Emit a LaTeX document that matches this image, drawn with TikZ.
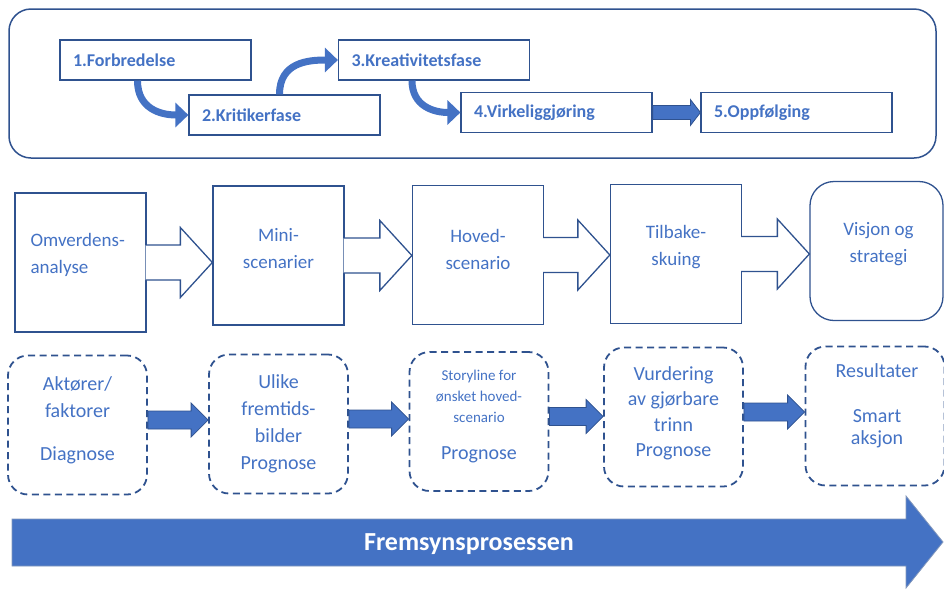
\documentclass[tikz,border=0pt]{standalone}
\usepackage{fontspec}
\setmainfont{Carlito}
\usetikzlibrary{arrows.meta,calc,positioning}
\definecolor{lineblue}{HTML}{2F528F}
\definecolor{officeblue}{HTML}{4472C4}
\newcommand\storyfont{\fontsize{15}{20}\selectfont}
\tikzset{
  fase/.style={draw=lineblue, line width=1.2pt, minimum height=40pt, text width=165pt,
    inner xsep=13pt, inner ysep=0pt, align=left, text=officeblue,
    font=\fontsize{18}{20}\selectfont\bfseries},
  stage/.style={draw=lineblue, line width=1.3pt, minimum width=131pt, minimum height=139pt, inner sep=0pt},
  stagetext/.style={inner sep=0pt, text=officeblue, align=center, font=\fontsize{19}{27}\selectfont},
  task/.style={draw=lineblue, line width=1.8pt, dash pattern=on 7pt off 4.5pt, rounded corners=20pt,
    minimum width=139pt, minimum height=139pt, inner sep=0pt},
  tasktext/.style={inner sep=0pt, text=officeblue, align=center, font=\fontsize{20}{27}\selectfont},
  callout/.style={draw=lineblue, line width=1.3pt, fill=white, line join=miter},
  blockarrow/.style={draw=lineblue, line width=0.8pt, fill=officeblue},
  curvearrow/.style={draw=officeblue, line width=7pt, -{Triangle[length=13pt,width=24pt]}}
}
\begin{document}
\begin{tikzpicture}[x=1pt, y=-1pt]
\useasboundingbox (0,0) rectangle (944,590);
% phases
\node[draw=lineblue, line width=1.5pt, rounded corners=22pt, minimum width=927pt, minimum height=149pt] (faser) at (472.5,83.5) {};
\node[fase] (forb) at (155.5,60) {1.Forbredelse};
\node[fase] (krit) at (284.5,115) {2.Kritikerfase};
\node[fase] (krea) at (434,60) {3.Kreativitetsfase};
\node[fase] (virk) at (556.5,112.5) {4.Virkeliggjøring};
\node[fase] (oppf) at (796.5,112.5) {5.Oppfølging};
\draw[curvearrow] ([xshift=-18pt]forb.south) .. controls +(0,28) and +(-28,0) .. (krit.west);
\draw[curvearrow] ([xshift=-5pt]krit.north) .. controls +(0,-32) and +(-30,0) .. (krea.west);
\draw[curvearrow] ([xshift=-22pt]krea.south) .. controls +(0,26) and +(-26,0) .. (virk.west);
\filldraw[blockarrow] ($(virk.east)+(0,-7)$) -- ($(oppf.west)+(-10,-7)$) -- ($(oppf.west)+(-10,-13)$) -- (oppf.west)
  -- ($(oppf.west)+(-10,13)$) -- ($(oppf.west)+(-10,7)$) -- ($(virk.east)+(0,7)$) -- cycle;
% stages
\node[stage] (omv) at (80.5,262.5) {};
\node[stage] (mini) at (278.5,255.5) {};
\node[stage] (hoved) at (478,255) {};
\node[stage] (tilbake) at (676,254) {};
\node[stage, rounded corners=24pt, minimum width=133pt] (visjon) at (876.5,251) {};
\foreach \src/\dst in {omv/mini, mini/hoved, hoved/tilbake, tilbake/visjon}
  \filldraw[callout] ($(\src.east)+(-1,-17.5)$) -- ($(\src.east-|\dst.west)+(-32,-17.5)$) -- ($(\src.east-|\dst.west)+(-32,-35)$)
    -- (\src.east-|\dst.west) -- ($(\src.east-|\dst.west)+(-32,35)$) -- ($(\src.east-|\dst.west)+(-32,17.5)$) -- ($(\src.east)+(-1,17.5)$);
\node[stagetext, align=left, anchor=west] (omv-txt) at ($(omv.west)+(16,-8)$) {Omverdens-\\analyse};
\node[stagetext] (mini-txt) at ($(mini)+(0,-6.5)$) {Mini-\\scenarier};
\node[stagetext] (hoved-txt) at ($(hoved)+(0,-6)$) {Hoved-\\scenario};
\node[stagetext] (tilbake-txt) at ($(tilbake)+(0,-6.5)$) {Tilbake-\\skuing};
\node[stagetext] (visjon-txt) at ($(visjon)+(2,-7)$) {Visjon og\\strategi};
% tasks
\node[task] (aktor) at (77.5,425) {};
\node[task] (ulike) at (278.5,424) {};
\node[task] (story) at (479,421.5) {};
\node[task] (vurd) at (673.5,417) {};
\node[task] (result) at (875,416) {};
\foreach \src/\dst in {aktor/ulike, ulike/story, story/vurd, vurd/result}
  \filldraw[blockarrow] ($(\src.east)+(0,-14)$) -- ($(\src.east-|\dst.west)+(-17,-14)$) -- ($(\src.east-|\dst.west)+(-17,-22)$)
    -- ($(\src.east-|\dst.west)+(0,-5)$) -- ($(\src.east-|\dst.west)+(-17,12)$) -- ($(\src.east-|\dst.west)+(-17,4)$) -- ($(\src.east)+(0,4)$) -- cycle;
\node[tasktext] (aktor-txt) at ($(aktor)+(0,-5)$) {Aktører/\\faktorer\\[16pt]Diagnose};
\node[tasktext] (ulike-txt) at (ulike) {Ulike\\fremtids-\\bilder\\Prognose};
\node[tasktext] (story-txt) at ($(story)+(0,-5)$) {{\storyfont Storyline for}\\[-6.5pt]{\storyfont ønsket hoved-}\\[-6.5pt]{\storyfont scenario}\\[10pt]Prognose};
\node[tasktext] (vurd-txt) at ($(vurd)+(0,-3.5)$) {Vurdering\\[-1.5pt]av gjørbare\\[-1.5pt]trinn\\[-1.5pt]Prognose};
\node[tasktext] (result-txt) at ($(result)+(2,-10)$) {Resultater\\[18pt]Smart\\[-5pt]aksjon};
% process arrow
\filldraw[fill=officeblue, draw=lineblue!60, line width=0.8pt] (12,519) -- (906,519) -- (906,496) -- (943,542) -- (906,588) -- (906,566) -- (12,566) -- cycle;
\node[text=white, font=\fontsize{26}{30}\selectfont\bfseries] (fremsyn) at (469,544) {Fremsynsprosessen};
\end{tikzpicture}
\end{document}
